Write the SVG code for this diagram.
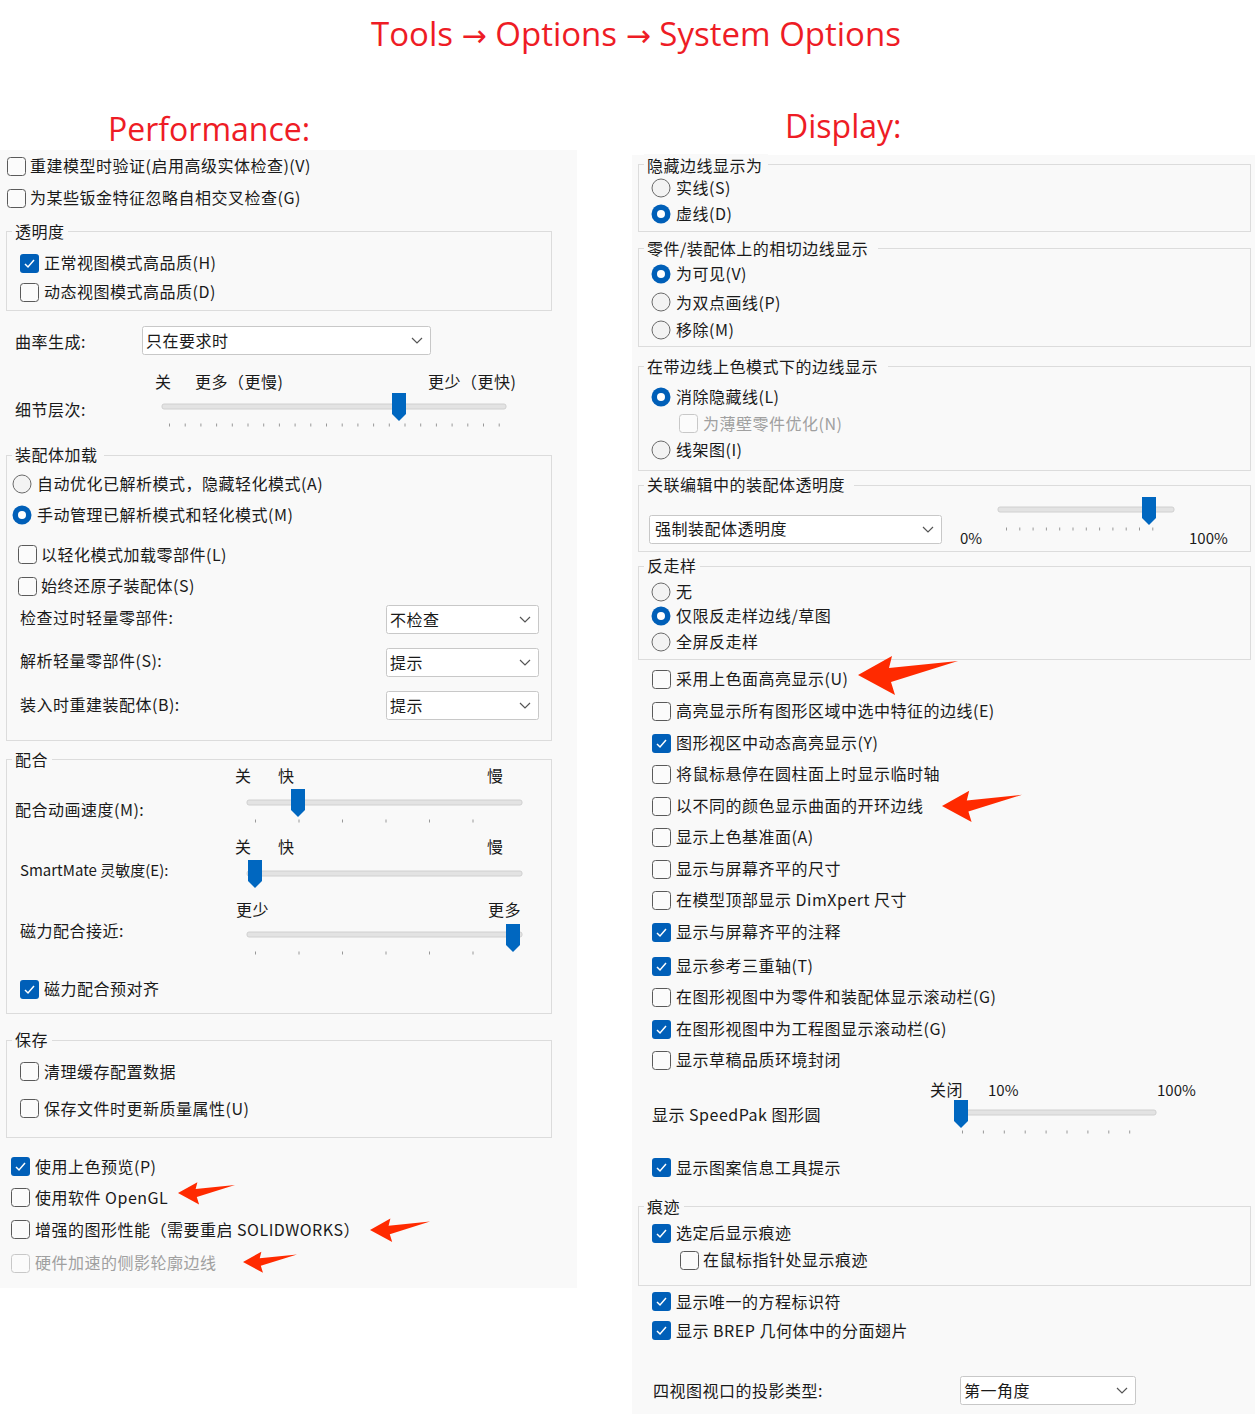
<svg xmlns="http://www.w3.org/2000/svg" width="1255" height="1414" viewBox="0 0 1255 1414">
<style>
text{font-family:"Noto Sans CJK SC","Liberation Sans",sans-serif;font-size:16px;fill:#1a1a1a;letter-spacing:0.5px}
.t{fill:#ee1c25;font-size:33px;font-family:"Open Sans","Noto Sans",sans-serif;letter-spacing:0}
.ta{font-family:"DejaVu Sans",sans-serif;font-size:30px}
.dis{fill:#a0a0a0}
.gb{fill:none;stroke:#dcdcdc;stroke-width:1}
.lb{fill:#f9f9f9}
.dd{fill:#fff;stroke:#c8c8c8}
.trk{fill:#e3e3e3;stroke:#d0d0d0}
.tk{stroke:#999;stroke-width:3;fill:none}
.arr{fill:#ff2a00}
.sm{font-size:15px;letter-spacing:0}
</style>
<defs>
<g id="cb"><rect x="0.5" y="0.5" width="18" height="18" rx="3" fill="#fbfbfb" stroke="#5a5a5a"/></g>
<g id="cbc"><rect x="0" y="0" width="19" height="19" rx="3" fill="#005fb8"/><path d="M5 10 L8 13 L14 6" fill="none" stroke="#fff" stroke-width="1.5"/></g>
<g id="cbd"><rect x="0.5" y="0.5" width="18" height="18" rx="3" fill="#fbfbfb" stroke="#c8c8c8"/></g>
<g id="rd"><circle cx="0" cy="0" r="9" fill="#f3f3f3" stroke="#6a6a6a"/></g>
<g id="rdc"><circle cx="0" cy="0" r="9.5" fill="#005fb8"/><circle cx="0" cy="0" r="4" fill="#fff"/></g>
<path id="th" d="M-7 0 H7 V21 L0 28 L-7 21 Z" fill="#0067c0"/>
<path id="ar" d="M0 0 L34 -19 L31 -7 L100 -14 L33 7 L37 20 Z"/>
<path id="chev" d="M-5 -2 L0 3 L5 -2" fill="none" stroke="#555" stroke-width="1.2"/>
</defs>

<g id="titles">
<text class="t" x="636" y="46" text-anchor="middle">Tools <tspan class="ta">→</tspan> Options <tspan class="ta">→</tspan> System Options</text>
<text class="t" x="108" y="141" font-size="32" style="font-size:32px">Performance:</text>
<text class="t" x="785" y="138" style="font-size:32px">Display:</text>
</g>

<rect x="0" y="150" width="577" height="1138" fill="#f9f9f9"/>
<rect x="632" y="155" width="623" height="1259" fill="#f9f9f9"/>

<g id="perf">
<use href="#cb" x="7" y="157"/><text x="30" y="172">重建模型时验证(启用高级实体检查)(V)</text>
<use href="#cb" x="7" y="189"/><text x="30" y="204">为某些钣金特征忽略自相交叉检查(G)</text>

<rect class="gb" x="6.5" y="231.5" width="545" height="79"/><rect class="lb" x="12" y="222" width="56" height="18"/>
<text x="15" y="238">透明度</text>
<use href="#cbc" x="20" y="254"/><text x="44" y="269">正常视图模式高品质(H)</text>
<use href="#cb" x="20" y="283"/><text x="44" y="298">动态视图模式高品质(D)</text>

<text x="15" y="348">曲率生成:</text>
<rect class="dd" x="142.5" y="326.5" width="288" height="28" rx="2"/><text x="146" y="347">只在要求时</text><use href="#chev" x="417" y="340"/>

<text x="155" y="388">关</text><text x="195" y="388">更多（更慢)</text><text x="428" y="388">更少（更快)</text>
<text x="15" y="416">细节层次:</text>
<rect class="trk" x="162" y="404" width="344" height="5" rx="2"/>
<line class="tk" x1="169" y1="425" x2="500" y2="425" stroke-dasharray="1 14.7"/>
<use href="#th" x="399" y="393"/>

<rect class="gb" x="6.5" y="455.5" width="545" height="285"/><rect class="lb" x="12" y="445" width="92" height="18"/>
<text x="15" y="461">装配体加载</text>
<use href="#rd" x="22" y="484"/><text x="37" y="490">自动优化已解析模式，隐藏轻化模式(A)</text>
<use href="#rdc" x="22" y="515"/><text x="37" y="521">手动管理已解析模式和轻化模式(M)</text>
<use href="#cb" x="18" y="545"/><text x="41" y="561">以轻化模式加载零部件(L)</text>
<use href="#cb" x="18" y="577"/><text x="41" y="592">始终还原子装配体(S)</text>
<text x="20" y="624">检查过时轻量零部件:</text>
<rect class="dd" x="386.5" y="605.5" width="152" height="28" rx="2"/><text x="390" y="626">不检查</text><use href="#chev" x="525" y="619"/>
<text x="20" y="667">解析轻量零部件(S):</text>
<rect class="dd" x="386.5" y="648.5" width="152" height="28" rx="2"/><text x="390" y="669">提示</text><use href="#chev" x="525" y="662"/>
<text x="20" y="711">装入时重建装配体(B):</text>
<rect class="dd" x="386.5" y="691.5" width="152" height="28" rx="2"/><text x="390" y="712">提示</text><use href="#chev" x="525" y="705"/>

<rect class="gb" x="6.5" y="759.5" width="545" height="254"/><rect class="lb" x="12" y="749" width="40" height="18"/>
<text x="15" y="766">配合</text>
<text x="235" y="782">关</text><text x="278" y="782">快</text><text x="487" y="782">慢</text>
<text x="15" y="816">配合动画速度(M):</text>
<rect class="trk" x="247" y="800" width="275" height="5" rx="2"/>
<line class="tk" x1="255" y1="821" x2="516" y2="821" stroke-dasharray="1 42.5"/>
<use href="#th" x="298" y="789"/>
<text x="235" y="853">关</text><text x="278" y="853">快</text><text x="487" y="853">慢</text>
<text x="20" y="876" class="sm">SmartMate 灵敏度(E):</text>
<rect class="trk" x="247" y="871" width="275" height="5" rx="2"/>
<use href="#th" x="255" y="860"/>
<text x="236" y="916">更少</text><text x="488" y="916">更多</text>
<text x="20" y="937">磁力配合接近:</text>
<rect class="trk" x="247" y="932" width="275" height="5" rx="2"/>
<line class="tk" x1="255" y1="953" x2="516" y2="953" stroke-dasharray="1 42.5"/>
<use href="#th" x="513" y="924"/>
<use href="#cbc" x="20" y="980"/><text x="44" y="995">磁力配合预对齐</text>

<rect class="gb" x="6.5" y="1040.5" width="545" height="97"/><rect class="lb" x="12" y="1030" width="40" height="18"/>
<text x="15" y="1046">保存</text>
<use href="#cb" x="20" y="1062"/><text x="44" y="1078">清理缓存配置数据</text>
<use href="#cb" x="20" y="1099"/><text x="44" y="1115">保存文件时更新质量属性(U)</text>

<use href="#cbc" x="11" y="1157"/><text x="35" y="1173">使用上色预览(P)</text>
<use href="#cb" x="11" y="1188"/><text x="35" y="1204">使用软件 OpenGL</text>
<use href="#cb" x="11" y="1220"/><text x="35" y="1236">增强的图形性能（需要重启 SOLIDWORKS）</text>
<use href="#cbd" x="11" y="1254"/><text x="35" y="1269" class="dis">硬件加速的侧影轮廓边线</text>
</g>

<g id="display">
<rect class="gb" x="638.5" y="164.5" width="612" height="67"/><rect class="lb" x="644" y="154" width="124" height="18"/>
<text x="647" y="172">隐藏边线显示为</text>
<use href="#rd" x="661" y="188"/><text x="676" y="194">实线(S)</text>
<use href="#rdc" x="661" y="214"/><text x="676" y="220">虚线(D)</text>

<rect class="gb" x="638.5" y="248.5" width="612" height="98"/><rect class="lb" x="644" y="238" width="234" height="18"/>
<text x="647" y="255">零件/装配体上的相切边线显示</text>
<use href="#rdc" x="661" y="274"/><text x="676" y="280">为可见(V)</text>
<use href="#rd" x="661" y="302"/><text x="676" y="309">为双点画线(P)</text>
<use href="#rd" x="661" y="330"/><text x="676" y="336">移除(M)</text>

<rect class="gb" x="638.5" y="366.5" width="612" height="104"/><rect class="lb" x="644" y="356" width="244" height="18"/>
<text x="647" y="373">在带边线上色模式下的边线显示</text>
<use href="#rdc" x="661" y="397"/><text x="676" y="403">消除隐藏线(L)</text>
<use href="#cbd" x="679" y="414"/><text x="703" y="430" class="dis">为薄壁零件优化(N)</text>
<use href="#rd" x="661" y="450"/><text x="676" y="456">线架图(I)</text>

<rect class="gb" x="638.5" y="485.5" width="612" height="66"/><rect class="lb" x="644" y="475" width="210" height="18"/>
<text x="647" y="491">关联编辑中的装配体透明度</text>
<rect class="dd" x="649.5" y="515.5" width="292" height="28" rx="2"/><text x="655" y="535">强制装配体透明度</text><use href="#chev" x="928" y="529"/>
<text x="960" y="544" class="sm">0%</text><text x="1189" y="544" class="sm">100%</text>
<rect class="trk" x="998" y="507" width="176" height="5" rx="2"/>
<line class="tk" x1="1006" y1="529" x2="1165" y2="529" stroke-dasharray="1 12.3"/>
<use href="#th" x="1149" y="497"/>

<rect class="gb" x="638.5" y="566.5" width="612" height="93"/><rect class="lb" x="644" y="556" width="56" height="18"/>
<text x="647" y="572">反走样</text>
<use href="#rd" x="661" y="592"/><text x="676" y="598">无</text>
<use href="#rdc" x="661" y="616"/><text x="676" y="622">仅限反走样边线/草图</text>
<use href="#rd" x="661" y="642"/><text x="676" y="648">全屏反走样</text>

<use href="#cb" x="652" y="670"/><text x="676" y="685">采用上色面高亮显示(U)</text>
<use href="#cb" x="652" y="702"/><text x="676" y="717">高亮显示所有图形区域中选中特征的边线(E)</text>
<use href="#cbc" x="652" y="734"/><text x="676" y="749">图形视区中动态高亮显示(Y)</text>
<use href="#cb" x="652" y="765"/><text x="676" y="780">将鼠标悬停在圆柱面上时显示临时轴</text>
<use href="#cb" x="652" y="797"/><text x="676" y="812">以不同的颜色显示曲面的开环边线</text>
<use href="#cb" x="652" y="828"/><text x="676" y="843">显示上色基准面(A)</text>
<use href="#cb" x="652" y="860"/><text x="676" y="875">显示与屏幕齐平的尺寸</text>
<use href="#cb" x="652" y="891"/><text x="676" y="906">在模型顶部显示 DimXpert 尺寸</text>
<use href="#cbc" x="652" y="923"/><text x="676" y="938">显示与屏幕齐平的注释</text>
<use href="#cbc" x="652" y="957"/><text x="676" y="972">显示参考三重轴(T)</text>
<use href="#cb" x="652" y="988"/><text x="676" y="1003">在图形视图中为零件和装配体显示滚动栏(G)</text>
<use href="#cbc" x="652" y="1020"/><text x="676" y="1035">在图形视图中为工程图显示滚动栏(G)</text>
<use href="#cb" x="652" y="1051"/><text x="676" y="1066">显示草稿品质环境封闭</text>

<text x="930" y="1096">关闭</text><text x="988" y="1096" class="sm">10%</text><text x="1157" y="1096" class="sm">100%</text>
<text x="652" y="1121">显示 SpeedPak 图形圆</text>
<rect class="trk" x="955" y="1110" width="201" height="5" rx="2"/>
<line class="tk" x1="962" y1="1132" x2="1150" y2="1132" stroke-dasharray="1 19.9"/>
<use href="#th" x="961" y="1100"/>

<use href="#cbc" x="652" y="1158"/><text x="676" y="1174">显示图案信息工具提示</text>

<rect class="gb" x="638.5" y="1206.5" width="612" height="79"/><rect class="lb" x="644" y="1196" width="40" height="18"/>
<text x="647" y="1213">痕迹</text>
<use href="#cbc" x="652" y="1224"/><text x="676" y="1239">选定后显示痕迹</text>
<use href="#cb" x="680" y="1251"/><text x="703" y="1266">在鼠标指针处显示痕迹</text>

<use href="#cbc" x="652" y="1292"/><text x="676" y="1308">显示唯一的方程标识符</text>
<use href="#cbc" x="652" y="1321"/><text x="676" y="1337">显示 BREP 几何体中的分面翅片</text>

<text x="653" y="1397">四视图视口的投影类型:</text>
<rect class="dd" x="960.5" y="1376.5" width="175" height="28" rx="2"/><text x="964" y="1397">第一角度</text><use href="#chev" x="1122" y="1390"/>
</g>

<g id="connectors" class="arr">
<use href="#ar" transform="translate(858,675)"/>
<use href="#ar" transform="translate(942,806) scale(0.8)"/>
<use href="#ar" transform="translate(178,1193) scale(0.57)"/>
<use href="#ar" transform="translate(370,1230) scale(0.6)"/>
<use href="#ar" transform="translate(243,1262) scale(0.54)"/>
</g>
</svg>
